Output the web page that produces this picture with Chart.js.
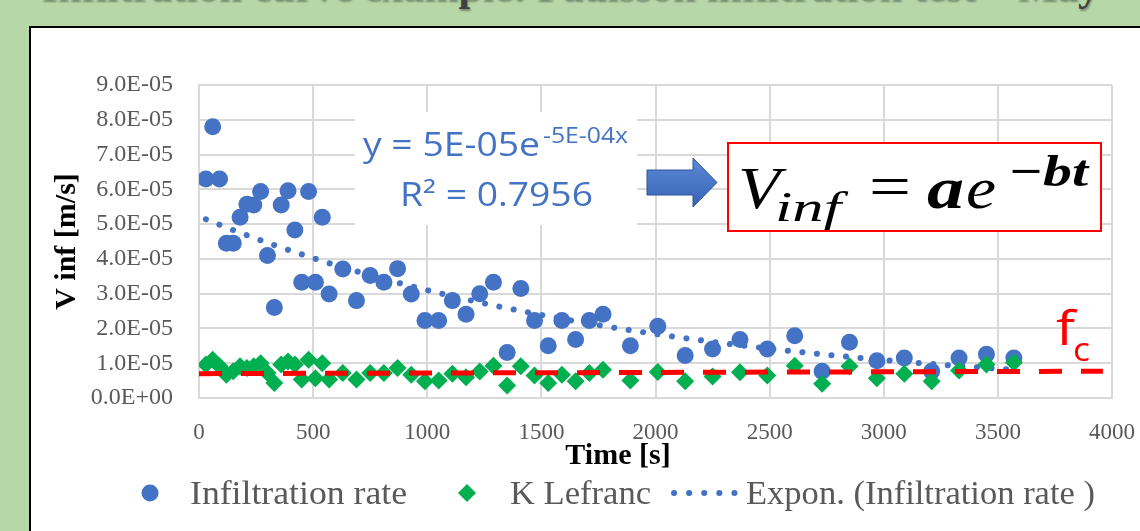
<!DOCTYPE html>
<html>
<head>
<meta charset="utf-8">
<script src="https://cdn.jsdelivr.net/npm/chart.js@4.4.0/dist/chart.umd.min.js"></script>
<style>
  html, body { margin: 0; padding: 0; }
  body { width: 1140px; height: 531px; overflow: hidden; background: #b6d7a8; position: relative; }
  #slide-title { position: absolute; left: 0; width: 1140px; top: -38px; text-align: center; font: bold 42px "Liberation Serif", serif; color: #404040; white-space: nowrap; text-shadow: 1px 2px 2px rgba(0,0,0,0.35); }
  #panel { position: absolute; left: 29px; top: 26px; width: 1200px; height: 600px; background: #fff; border: 2px solid #000; }
  #chart { position: absolute; left: 0; top: 0; }
</style>
</head>
<body>
<div id="slide-title">Infiltration curve example: Paulsson infiltration test – May</div>
<div id="panel"></div>
<canvas id="chart" width="1140" height="531"></canvas>
<script>
// time of each reading [s]
const timeS = [30, 60, 90, 120, 150, 180, 210, 240, 270, 300, 330, 360, 390, 420, 450, 480, 510, 540, 570,
  630, 690, 750, 810, 870, 930, 990, 1050, 1110, 1170, 1230, 1290, 1350, 1410, 1470, 1530, 1590, 1650, 1710, 1770,
  1890, 2010, 2130, 2250, 2370, 2490, 2610, 2730, 2850, 2970, 3090, 3210, 3330, 3450, 3570];

// infiltration rate [m/s]
const infiltrationRate = [6.3e-5, 7.8e-5, 6.3e-5, 4.45e-5, 4.45e-5, 5.2e-5, 5.57e-5, 5.55e-5, 5.94e-5, 4.1e-5,
  2.6e-5, 5.55e-5, 5.96e-5, 4.83e-5, 3.33e-5, 5.94e-5, 3.33e-5, 5.2e-5, 2.99e-5,
  3.71e-5, 2.8e-5, 3.52e-5, 3.33e-5, 3.72e-5, 2.99e-5, 2.23e-5, 2.23e-5, 2.8e-5, 2.41e-5, 3.0e-5, 3.33e-5,
  1.31e-5, 3.15e-5, 2.23e-5, 1.5e-5, 2.23e-5, 1.68e-5, 2.23e-5, 2.41e-5,
  1.5e-5, 2.06e-5, 1.22e-5, 1.41e-5, 1.68e-5, 1.41e-5, 1.79e-5, 0.77e-5, 1.6e-5, 1.07e-5, 1.15e-5, 0.77e-5,
  1.15e-5, 1.26e-5, 1.15e-5];

// K Lefranc [m/s]
const kLefranc = [0.96e-5, 1.1e-5, 0.91e-5, 0.67e-5, 0.77e-5, 0.91e-5, 0.86e-5, 0.91e-5, 1.0e-5, 0.72e-5,
  0.43e-5, 0.96e-5, 1.05e-5, 0.96e-5, 0.53e-5, 1.1e-5, 0.57e-5, 1.0e-5, 0.53e-5,
  0.72e-5, 0.53e-5, 0.72e-5, 0.72e-5, 0.86e-5, 0.67e-5, 0.48e-5, 0.5e-5, 0.7e-5, 0.6e-5, 0.76e-5, 0.93e-5,
  0.36e-5, 0.91e-5, 0.65e-5, 0.43e-5, 0.67e-5, 0.48e-5, 0.72e-5, 0.81e-5,
  0.5e-5, 0.75e-5, 0.48e-5, 0.62e-5, 0.74e-5, 0.65e-5, 0.93e-5, 0.41e-5, 0.91e-5, 0.57e-5, 0.7e-5, 0.48e-5,
  0.79e-5, 0.96e-5, 1.02e-5];

// final infiltration capacity line (fc)
const fcTime = [0, 3960];
const fcValue = [0.70e-5, 0.77e-5];

const xTickLabels = ["0", "500", "1000", "1500", "2000", "2500", "3000", "3500", "4000"];
const yTickLabels = ["0.0E+00", "1.0E-05", "2.0E-05", "3.0E-05", "4.0E-05", "5.0E-05", "6.0E-05", "7.0E-05", "8.0E-05", "9.0E-05"];

const BLUE = "#4472C4";
const GREEN = "#00B050";
const RED = "#FF0000";
const GREY = "#595959";

// least squares fit of ln(y) = ln(a) + b x  (same as the Excel "Expon." trendline)
function expFit(xs, ys) {
  const n = xs.length;
  let sx = 0, sy = 0, sxx = 0, sxy = 0;
  for (let i = 0; i < n; i++) {
    const ly = Math.log(ys[i]);
    sx += xs[i]; sy += ly; sxx += xs[i] * xs[i]; sxy += xs[i] * ly;
  }
  const b = (n * sxy - sx * sy) / (n * sxx - sx * sx);
  const a = Math.exp((sy - b * sx) / n);
  return { a, b };
}

const fit = expFit(timeS, infiltrationRate);

const toPoints = (xs, ys) => xs.map((x, i) => ({ x: x, y: ys[i] }));

function fitText(ctx, text, x, y, width, font, color) {
  ctx.save();
  ctx.font = font;
  ctx.fillStyle = color;
  ctx.textBaseline = "alphabetic";
  ctx.textAlign = "left";
  const w = ctx.measureText(text).width;
  ctx.translate(x, y);
  if (width) ctx.scale(width / w, 1);
  ctx.fillText(text, 0, 0);
  ctx.restore();
}

// boxes, formula, arrow, x title and legend drawn over the chart
const annotations = {
  id: "annotations",
  beforeDatasetsDraw(chart) {
    const ctx = chart.ctx;
    ctx.save();
    ctx.fillStyle = "#fff";
    ctx.fillRect(355, 112, 282, 113);
    ctx.restore();
  },
  afterDraw(chart) {
    const ctx = chart.ctx;

    // x axis title (sits left of the plot centre in the original)
    ctx.save();
    ctx.font = 'bold 30px "Liberation Serif"';
    ctx.fillStyle = "#000";
    ctx.textAlign = "center";
    ctx.textBaseline = "middle";
    ctx.fillText("Time [s]", 618, 456);
    ctx.restore();

    // trendline equation
    fitText(ctx, "y = 5E-05e", 363, 156, 177, '32px "Open Sans"', BLUE);
    fitText(ctx, "-5E-04x", 543, 143, 85, '21px "Open Sans"', BLUE);
    fitText(ctx, "R² = 0.7956", 400, 206, 193, '32px "Open Sans"', BLUE);

    // arrow
    ctx.save();
    const grad = ctx.createLinearGradient(0, 158, 0, 207);
    grad.addColorStop(0, "#5b8ad8");
    grad.addColorStop(1, "#3763b3");
    ctx.fillStyle = grad;
    ctx.strokeStyle = "#2f5597";
    ctx.lineWidth = 1;
    ctx.beginPath();
    ctx.moveTo(647, 170); ctx.lineTo(693, 170); ctx.lineTo(693, 158);
    ctx.lineTo(717, 182.5); ctx.lineTo(693, 207); ctx.lineTo(693, 195);
    ctx.lineTo(647, 195); ctx.closePath();
    ctx.fill(); ctx.stroke();
    ctx.restore();

    // model formula box
    ctx.save();
    ctx.fillStyle = "#fff";
    ctx.fillRect(728, 143, 373, 88);
    ctx.strokeStyle = RED;
    ctx.lineWidth = 2;
    ctx.strokeRect(728, 143, 373, 88);
    ctx.restore();
    fitText(ctx, "V", 738, 208, 42, 'italic 60px "Liberation Serif"', "#000");
    fitText(ctx, "inf", 775, 221, 66, 'italic 42px "Liberation Serif"', "#000");
    fitText(ctx, "=", 869, 206, 42, '60px "Liberation Serif"', "#000");
    fitText(ctx, "a", 927, 208, 37, 'bold italic 60px "Liberation Serif"', "#000");
    fitText(ctx, "e", 966, 208, 30, 'italic 60px "Liberation Serif"', "#000");
    fitText(ctx, "−bt", 1008, 186, 80, 'bold italic 44px "Liberation Serif"', "#000");

    // fc label
    fitText(ctx, "f", 1056, 345, 19, '500 48px "Open Sans"', RED);
    fitText(ctx, "c", 1073, 361, 17, '500 32px "Open Sans"', RED);

    // legend
    ctx.save();
    const ly = 493;
    ctx.fillStyle = BLUE;
    ctx.beginPath(); ctx.arc(150, ly, 8.5, 0, Math.PI * 2); ctx.fill();
    ctx.fillStyle = GREEN;
    ctx.beginPath();
    ctx.moveTo(467 - 9, ly); ctx.lineTo(467, ly - 9); ctx.lineTo(467 + 9, ly); ctx.lineTo(467, ly + 9);
    ctx.closePath(); ctx.fill();
    ctx.strokeStyle = BLUE;
    ctx.lineWidth = 6;
    ctx.lineCap = "round";
    ctx.setLineDash([0.1, 15]);
    ctx.beginPath(); ctx.moveTo(674, ly); ctx.lineTo(736, ly); ctx.stroke();
    ctx.restore();
    fitText(ctx, "Infiltration rate", 190, 504, 217, '34px "Liberation Serif"', GREY);
    fitText(ctx, "K Lefranc", 510, 504, 141, '34px "Liberation Serif"', GREY);
    fitText(ctx, "Expon. (Infiltration rate )", 746, 504, 349, '34px "Liberation Serif"', GREY);
  }
};

const ctx = document.getElementById("chart").getContext("2d");

new Chart(ctx, {
  type: "scatter",
  data: {
    datasets: [
      {
        label: "fc",
        data: toPoints(fcTime, fcValue),
        showLine: true,
        borderColor: RED,
        borderWidth: 5,
        borderDash: [23, 19],
        pointRadius: 0,
      },
      {
        label: "K Lefranc",
        data: toPoints(timeS, kLefranc),
        pointStyle: "rectRot",
        pointRadius: 9,
        backgroundColor: GREEN,
        borderWidth: 0,
      },
      {
        label: "Expon. (Infiltration rate )",
        data: timeS.map((x) => ({ x: x, y: fit.a * Math.exp(fit.b * x) })),
        showLine: true,
        borderColor: BLUE,
        borderWidth: 6,
        borderDash: [0.1, 14.5],
        borderCapStyle: "round",
        pointRadius: 0,
      },
      {
        label: "Infiltration rate",
        data: toPoints(timeS, infiltrationRate),
        pointStyle: "circle",
        pointRadius: 8.5,
        backgroundColor: BLUE,
        borderWidth: 0,
      },
    ],
  },
  options: {
    responsive: false,
    animation: false,
    layout: { padding: { left: 30, right: 28, top: 85, bottom: 57 } },
    plugins: {
      legend: { display: false },
      tooltip: { enabled: false },
    },
    scales: {
      x: {
        type: "linear",
        min: 0,
        max: 4000,
        afterFit(scale) {
          scale.height = 76;
          scale.paddingLeft = 0;
          scale.paddingRight = 0;
        },
        grid: { color: "#d9d9d9", lineWidth: 2, drawTicks: false },
        border: { color: "#d9d9d9", width: 2 },
        ticks: {
          stepSize: 500,
          padding: 21,
          maxRotation: 0,
          autoSkip: false,
          color: GREY,
          font: { family: "Liberation Serif", size: 23 },
          callback: (v, i) => xTickLabels[i],
        },
        title: { display: false },
      },
      y: {
        min: 0,
        max: 9e-5,
        afterFit(scale) { scale.width = 169; },
        grid: { color: "#d9d9d9", lineWidth: 2, drawTicks: false },
        border: { color: "#d9d9d9", width: 2 },
        ticks: {
          stepSize: 1e-5,
          padding: 26,
          color: GREY,
          font: { family: "Liberation Serif", size: 24 },
          callback: (v, i) => yTickLabels[i],
        },
        title: {
          display: true,
          text: "V inf [m/s]",
          color: "#000",
          padding: { top: 19, bottom: 0 },
          font: { family: "Liberation Serif", size: 30, weight: "bold" },
        },
      },
    },
  },
  plugins: [annotations],
});
</script>
</body>
</html>
